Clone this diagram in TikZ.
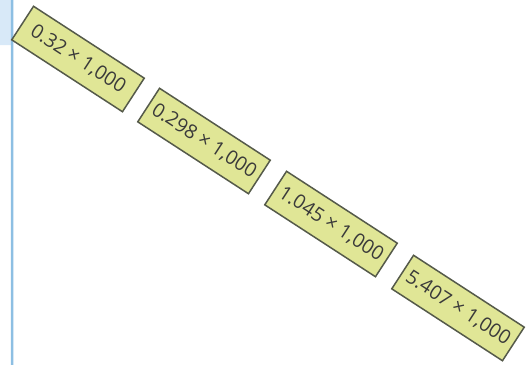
\documentclass[tikz,border=0pt]{standalone}
\usepackage{fontspec}
\setmainfont{Open Sans}
\definecolor{boxfill}{HTML}{E0E696}
\definecolor{boxline}{HTML}{555A4A}
\definecolor{paneline}{HTML}{8DBFE3}
\definecolor{panefill}{HTML}{D8E9F8}
\definecolor{txt}{HTML}{3A3A3A}
\begin{document}
\begin{tikzpicture}[x=1pt,y=-1pt,
  valbox/.style={draw=boxline, line width=1.5pt, fill=boxfill, rotate=-33,
    minimum width=132pt, minimum height=40pt, inner sep=0pt, text=txt,
    font=\fontsize{19.5}{22}\selectfont}]
\useasboundingbox (0,0) rectangle (526,364);
\fill[panefill] (0,-2) -- (4,-2) arc (90:0:8) -- (12,45) -- (0,45) -- cycle;
\draw[paneline, line width=2.5pt] (0,-2) -- (4,-2) arc (90:0:8) -- (12,366);
\node[valbox] (b1) at (78,59) {0.32 × 1,000};
\node[valbox] (b2) at (204,141) {0.298 × 1,000};
\node[valbox] (b3) at (331,224) {1.045 × 1,000};
\node[valbox] (b4) at (458,308) {5.407 × 1,000};
\end{tikzpicture}
\end{document}
